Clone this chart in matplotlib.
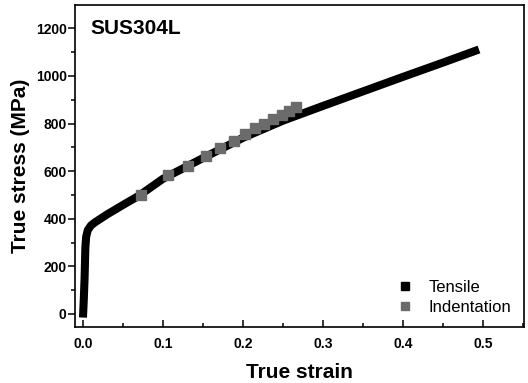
import matplotlib.pyplot as plt
from matplotlib.lines import Line2D
from matplotlib.ticker import MultipleLocator

plt.rcParams.update({
    'font.family': ['Liberation Sans', 'DejaVu Sans'],
    'axes.linewidth': 1.2,
})

# ─── Data ────────────────────────────────────────────────────────────────────
tensile_strain = [0.0, 0.001, 0.002, 0.003, 0.004, 0.006, 0.01, 0.015, 0.02,
                  0.03, 0.05, 0.07, 0.1, 0.15, 0.2, 0.25, 0.3, 0.35, 0.4,
                  0.45, 0.495]
tensile_stress = [-15, 60, 150, 280, 325, 352, 372, 385, 396,
                  418, 458, 497, 568, 655, 740, 812, 874, 935, 996,
                  1056, 1111]

indent_strain = [0.0725, 0.106, 0.131, 0.154, 0.171, 0.189, 0.2025, 0.215,
                 0.226, 0.2375, 0.249, 0.2575, 0.266]
indent_stress = [499, 583, 621, 662, 696, 725, 755, 780,
                 797, 818, 834, 851, 868]

x_ticks = [0.0, 0.1, 0.2, 0.3, 0.4, 0.5]
y_ticks = [0, 200, 400, 600, 800, 1000, 1200]

# ─── Figure ──────────────────────────────────────────────────────────────────
fig = plt.figure(figsize=(5.28, 3.83), dpi=100)
ax = fig.add_axes([0.142, 0.146, 0.850, 0.841])

ax.plot(tensile_strain, tensile_stress, color='black', lw=5.8,
        solid_capstyle='butt', solid_joinstyle='round', zorder=2)
ax.plot(indent_strain, indent_stress, ls='none', marker='s', ms=6.8,
        color='#6b6b6b', mec='#6b6b6b', zorder=3)

ax.set_xlim(-0.01, 0.551)
ax.set_ylim(-55, 1298)
ax.set_xticks(x_ticks)
ax.set_yticks(y_ticks)
ax.set_xticklabels([f'{v:.1f}' for v in x_ticks])
ax.xaxis.set_minor_locator(MultipleLocator(0.05))
ax.yaxis.set_minor_locator(MultipleLocator(100))

ax.tick_params(axis='x', which='major', direction='in', length=5, width=1.1,
               pad=7, labelsize=10)
ax.tick_params(axis='x', which='minor', direction='in', length=3, width=1.1)
ax.tick_params(axis='y', which='major', direction='out', length=5, width=1.1,
               pad=1, labelsize=10)
ax.tick_params(axis='y', which='minor', direction='out', length=3, width=1.1)
for lbl in ax.get_xticklabels() + ax.get_yticklabels():
    lbl.set_fontweight('bold')

ax.set_xlabel('True strain', fontsize=15, fontweight='bold', labelpad=9)
ax.set_ylabel('True stress (MPa)', fontsize=15, fontweight='bold', labelpad=4)

ax.text(0.035, 0.955, 'SUS304L', transform=ax.transAxes, fontsize=15,
        fontweight='bold', va='top', ha='left')

handles = [
    Line2D([], [], ls='none', marker='s', ms=6, color='black'),
    Line2D([], [], ls='none', marker='s', ms=6, color='#6b6b6b'),
]
ax.legend(handles, ['Tensile', 'Indentation'], loc='lower right',
          bbox_to_anchor=(1.005, -0.008), frameon=False, fontsize=12,
          handlelength=0.6, handletextpad=1.1, labelspacing=0.3)

fig.savefig('out.png', dpi=100)
